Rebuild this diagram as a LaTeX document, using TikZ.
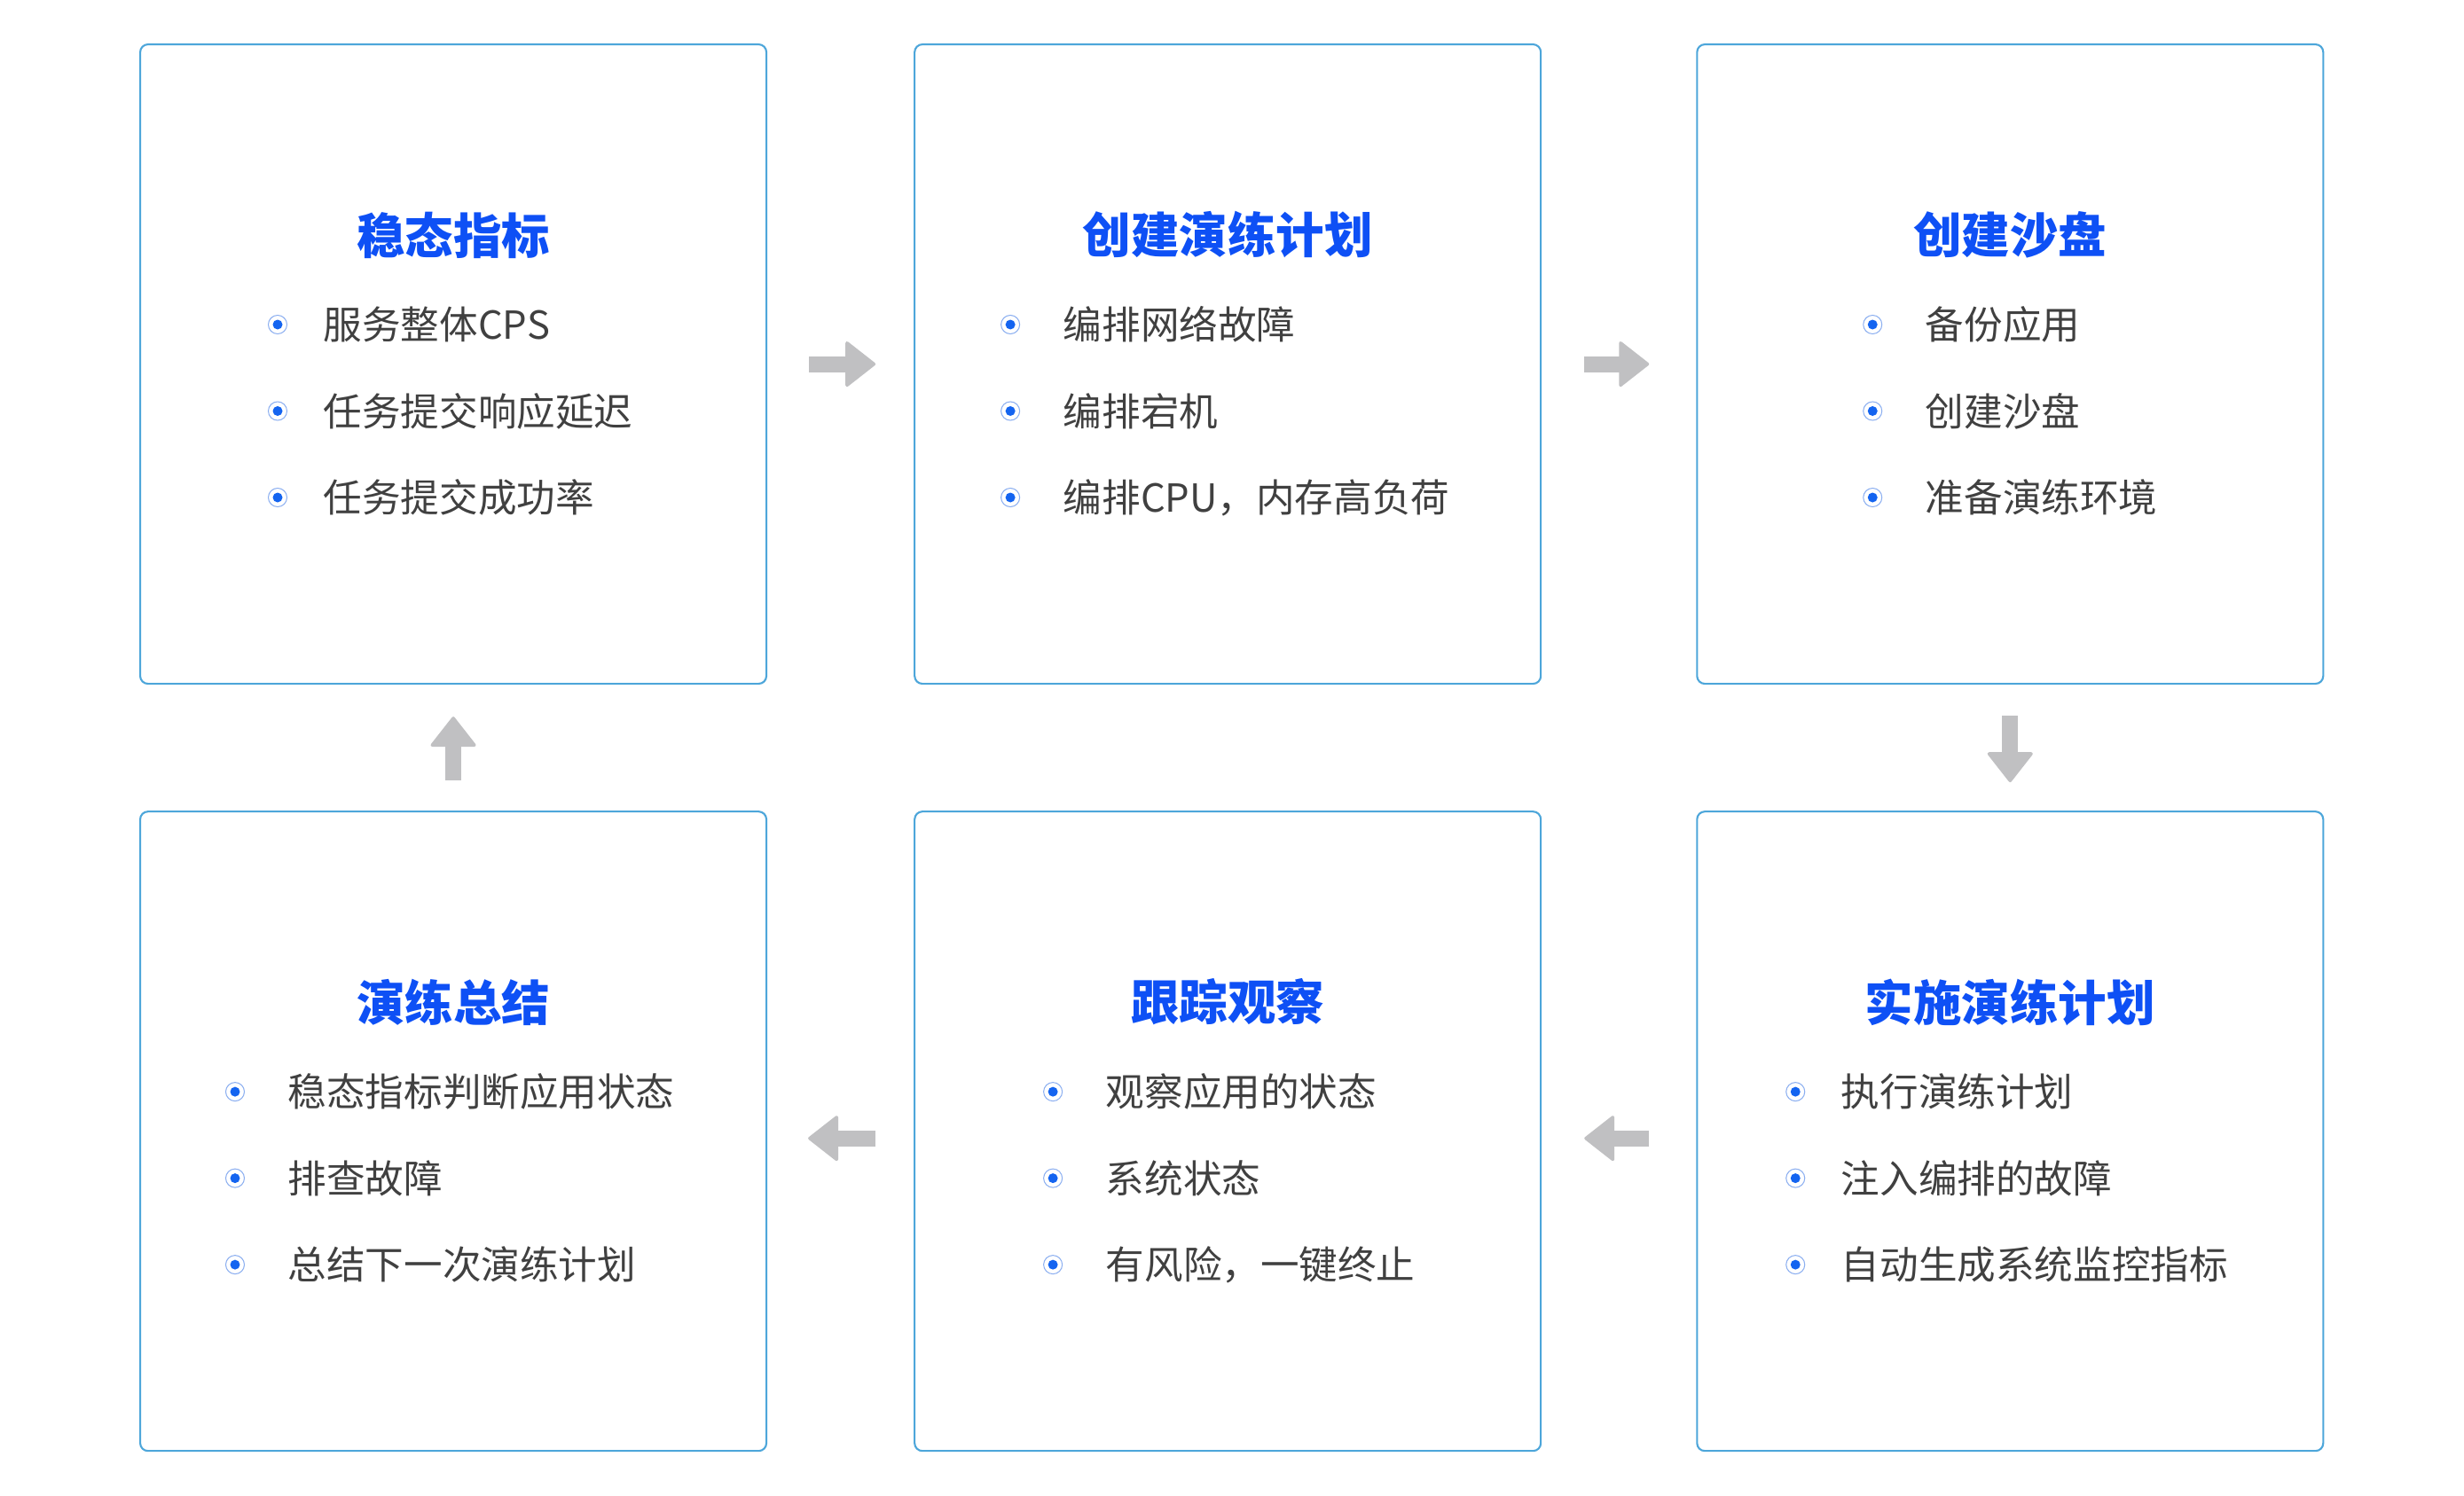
\documentclass[tikz,border=0pt]{standalone}
\usepackage{fontspec}
\setmainfont{Noto Sans CJK SC}
\usetikzlibrary{arrows.meta,positioning}
\definecolor{frameblue}{RGB}{77,166,218}
\definecolor{headblue}{RGB}{14,80,245}
\definecolor{dotblue}{RGB}{20,100,240}
\definecolor{ringblue}{RGB}{140,175,240}
\definecolor{textgray}{RGB}{64,64,64}
\definecolor{arrowgray}{RGB}{192,192,194}

\begin{document}
\begin{tikzpicture}[
    node distance=1.65cm,
    stage/.style={draw=frameblue,line width=0.6pt,rounded corners=2.5pt,
                  minimum width=7.06cm,minimum height=7.21cm,inner sep=0pt},
    head/.style={font=\fontsize{15.5pt}{18pt}\selectfont\bfseries,text=headblue,inner sep=0pt},
    item/.style={font=\fontsize{12.4pt}{15pt}\selectfont,text=textgray,inner sep=0pt},
    dot/.style={circle,draw=ringblue,line width=0.3pt,minimum size=0.21cm,inner sep=0pt,
                path picture={\fill[dotblue] (path picture bounding box.center) circle (0.055cm);}},
    flow/.style={arrowgray,line width=0.18cm,
                 -{Triangle[length=0.35cm,width=0.54cm,line width=1pt,round]}}]
  \useasboundingbox (0,0) rectangle (27.78,-16.86);
  \node[stage,anchor=north west] (s1) at (1.57,-0.49) {};
  \node[stage,right=of s1] (s2) {};
  \node[stage,right=1.74cm of s2] (s3) {};
  \node[stage,below=1.42cm of s3] (s6) {};
  \node[stage,below=1.42cm of s2] (s5) {};
  \node[stage,below=1.42cm of s1] (s4) {};
  % titles and bullet lists
  \foreach \s/\dx/\gap/\ttl/\lst in {
      s1/1.56/0.40/稳态指标/{服务整体CPS,任务提交响应延迟,任务提交成功率},
      s2/1.09/0.48/创建演练计划/{编排网络故障,编排宕机,编排CPU，内存高负荷},
      s3/1.99/0.48/创建沙盘/{备份应用,创建沙盘,准备演练环境},
      s4/1.08/0.48/演练总结/{稳态指标判断应用状态,排查故障,总结下一次演练计划},
      s5/1.57/0.48/跟踪观察/{观察应用的状态,系统状态,有风险，一键终止},
      s6/1.12/0.40/实施演练计划/{执行演练计划,注入编排的故障,自动生成系统监控指标}}{
    \node[head] (\s-h) at ([yshift=-2.16cm]\s.north) {\ttl};
    \foreach \t [count=\i] in \lst {
      \node[dot] (\s-d\i) at ([xshift=\dx cm,yshift={-3.17cm-(\i-1)*0.975cm}]\s.north west) {};
      \node[item,right=\gap cm of \s-d\i] (\s-t\i) {\t};
    }
  }
  % block arrows between the stages
  \draw[flow,shorten <=0.47cm,shorten >=0.43cm] (s1) -- (s2);
  \draw[flow,shorten <=0.48cm,shorten >=0.53cm] (s2) -- (s3);
  \draw[flow,shorten <=0.35cm,shorten >=0.32cm] (s3) -- (s6);
  \draw[flow,shorten <=0.53cm,shorten >=0.48cm] ([yshift=-0.08cm]s6.west) -- ([yshift=-0.08cm]s5.east);
  \draw[flow,shorten <=0.43cm,shorten >=0.46cm] ([yshift=-0.08cm]s5.west) -- ([yshift=-0.08cm]s4.east);
  \draw[flow,shorten <=0.34cm,shorten >=0.36cm] (s4) -- (s1);
\end{tikzpicture}
\end{document}
